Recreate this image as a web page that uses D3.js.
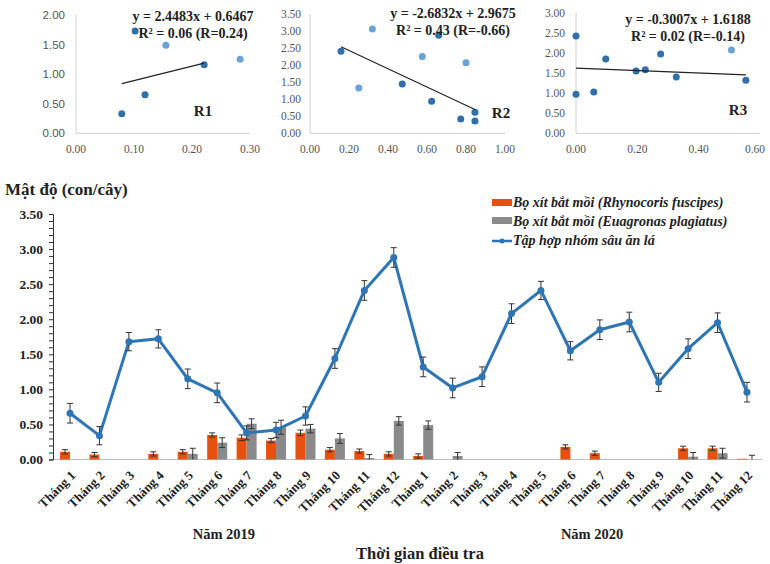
<!DOCTYPE html>
<html><head><meta charset="utf-8">
<script src="https://cdn.jsdelivr.net/npm/d3@7"></script>
<style>body{margin:0;background:#fff}svg{display:block}</style>
</head><body>
<svg id="c" width="770" height="564"></svg>
<script>
// ---------- data ----------
const monthLabels = ["Tháng 1","Tháng 2","Tháng 3","Tháng 4","Tháng 5","Tháng 6","Tháng 7","Tháng 8","Tháng 9","Tháng 10","Tháng 11","Tháng 12",
                     "Tháng 1","Tháng 2","Tháng 3","Tháng 4","Tháng 5","Tháng 6","Tháng 7","Tháng 8","Tháng 9","Tháng 10","Tháng 11","Tháng 12"];
const yearLabels = ["Năm 2019","Năm 2020"];
const rhyno    = [0.11,0.07,0,0.08,0.11,0.35,0.31,0.27,0.38,0.14,0.12,0.08, 0.05,0,0,0,0,0.18,0.09,0,0,0.16,0.16,0.01];
const rhynoErr = [0.03,0.03,0,0.03,0.03,0.03,0.04,0.03,0.04,0.03,0.03,0.03, 0.03,0,0,0,0,0.03,0.03,0,0,0.03,0.03,0];
const eua      = [0,0,0,0,0.08,0.24,0.51,0.46,0.44,0.30,0.02,0.55, 0.49,0.05,0,0,0,0,0,0,0,0.04,0.09,0];
const euaErr   = [0,0,0,0,0.08,0.07,0.07,0.10,0.06,0.07,0.05,0.06, 0.06,0.05,0,0,0,0,0,0,0,0.06,0.07,0.06];
const pest     = [0.66,0.34,1.68,1.72,1.15,0.95,0.38,0.42,0.62,1.44,2.41,2.88, 1.32,1.02,1.18,2.08,2.41,1.55,1.85,1.96,1.10,1.58,1.95,0.96];
const pestErr  = [0.14,0.13,0.13,0.13,0.14,0.14,0.10,0.11,0.13,0.14,0.14,0.14, 0.14,0.14,0.14,0.14,0.13,0.13,0.14,0.14,0.13,0.14,0.14,0.14];
const legendLabels = ["Bọ xít bắt mồi (Rhynocoris fuscipes)","Bọ xít bắt mồi (Euagronas plagiatus)","Tập hợp nhóm sâu ăn lá"];

// scatter panels
const r1Dark  = [[0.102,1.73],[0.221,1.16],[0.119,0.65],[0.079,0.33]];
const r1Light = [[0.155,1.49],[0.283,1.25]];
const r2Dark  = [[0.159,2.41],[0.66,2.88],[0.473,1.45],[0.624,0.94],[0.846,0.62],[0.773,0.42],[0.846,0.36]];
const r2Light = [[0.32,3.06],[0.576,2.25],[0.80,2.07],[0.25,1.33]];
const r3Dark  = [[0,2.42],[0,0.97],[0.058,1.03],[0.097,1.85],[0.196,1.55],[0.226,1.58],[0.276,1.97],[0.327,1.40],[0.554,1.32]];
const r3Light = [[0.507,2.07]];
const r1Fit = [2.4483,0.6467], r2Fit = [-2.6832,2.9675], r3Fit = [-0.3007,1.6188];
const r1Eq = ["y = 2.4483x + 0.6467","R² = 0.06 (R=0.24)"];
const r2Eq = ["y = -2.6832x + 2.9675","R² = 0.43 (R=-0.66)"];
const r3Eq = ["y = -0.3007x + 1.6188","R² = 0.02 (R=-0.14)"];
const r1XTicks=[0,0.1,0.2,0.3], r1YTicks=[0,0.5,1,1.5,2];
const r2XTicks=[0,0.2,0.4,0.6,0.8,1], r2YTicks=[0,0.5,1,1.5,2,2.5,3,3.5];
const r3XTicks=[0,0.2,0.4,0.6], r3YTicks=[0,0.5,1,1.5,2,2.5,3];

// ---------- styles ----------
const ORANGE="#e8500f", GRAY="#8a8a8a", BLUE="#2e75b6", DARKPT="#2f6fac", LIGHTPT="#6aa3d6";
const SERIF="'Liberation Serif','Times New Roman',serif";
const SANS="'Liberation Sans',Arial,sans-serif";
const svg = d3.select("#c");

// ---------- scatter panels ----------
function panel(cfg){
  const g = svg.append("g");
  const x = d3.scaleLinear().domain(cfg.xd).range(cfg.xr);
  const y = d3.scaleLinear().domain(cfg.yd).range(cfg.yr);
  g.append("line").attr("x1",x(cfg.xd[0])).attr("x2",x(cfg.xd[0])).attr("y1",y(cfg.yd[0])).attr("y2",y(cfg.yd[1])).attr("stroke","#d0d0d0");
  g.append("line").attr("x1",x(cfg.xd[0])).attr("x2",x(cfg.xd[1])).attr("y1",y(cfg.yd[0])).attr("y2",y(cfg.yd[0])).attr("stroke","#d0d0d0");
  g.selectAll(".yt").data(cfg.yt).join("text").attr("x",cfg.ylx).attr("y",d=>y(d)).attr("dy","0.35em")
    .attr("text-anchor","end").attr("font-family",cfg.yfont).attr("font-size",11.5).attr("fill","#555").text(d=>d.toFixed(2));
  g.selectAll(".xt").data(cfg.xt).join("text").attr("x",d=>Math.min(x(d),cfg.xmax||999)).attr("y",149).attr("dy","0.35em")
    .attr("text-anchor","middle").attr("font-family",SERIF).attr("font-size",11.5).attr("fill","#555").text(d=>d.toFixed(2));
  g.selectAll(".pl").data(cfg.light).join("circle").attr("cx",d=>x(d[0])).attr("cy",d=>y(d[1])).attr("r",3.5).attr("fill",LIGHTPT);
  g.selectAll(".pd").data(cfg.dark).join("circle").attr("cx",d=>x(d[0])).attr("cy",d=>y(d[1])).attr("r",3.5).attr("fill",DARKPT);
  const xs = d3.extent(cfg.dark,d=>d[0]);
  g.append("line").attr("x1",x(xs[0])).attr("x2",x(xs[1]))
    .attr("y1",y(cfg.fit[0]*xs[0]+cfg.fit[1])).attr("y2",y(cfg.fit[0]*xs[1]+cfg.fit[1]))
    .attr("stroke","#222").attr("stroke-width",1.2);
  g.selectAll(".eq").data(cfg.eq).join("text").attr("x",cfg.eqx).attr("y",(d,i)=>cfg.eqy+i*17).attr("dy","0.35em")
    .attr("text-anchor","middle").attr("font-family",SERIF).attr("font-weight","bold").attr("font-size",14).attr("fill","#222").text(d=>d);
  g.append("text").attr("x",cfg.lab[0]).attr("y",cfg.lab[1]).attr("dy","0.35em").attr("text-anchor","middle")
    .attr("font-family",SERIF).attr("font-weight","bold").attr("font-size",15).attr("fill","#222").text(cfg.name);
}
panel({xd:[0,0.3],xr:[76,250],yd:[0,2],yr:[133.3,15],xt:r1XTicks,yt:r1YTicks,ylx:65,yfont:SANS,
  dark:r1Dark,light:r1Light,fit:r1Fit,eq:r1Eq,eqx:193,eqy:16,lab:[203,111],name:"R1"});
panel({xd:[0,1],xr:[310,505],yd:[0,3.5],yr:[133.3,14],xt:r2XTicks,yt:r2YTicks,ylx:301,yfont:SERIF,
  dark:r2Dark,light:r2Light,fit:r2Fit,eq:r2Eq,eqx:453,eqy:13,lab:[501,113],name:"R2"});
panel({xd:[0,0.6],xr:[576,760],yd:[0,3],yr:[133.3,12.7],xt:r3XTicks,yt:r3YTicks,ylx:565,yfont:SERIF,xmax:755,
  dark:r3Dark,light:r3Light,fit:r3Fit,eq:r3Eq,eqx:688,eqy:19,lab:[738,110],name:"R3"});

// ---------- main chart ----------
const idx = d3.range(monthLabels.length);
const x = d3.scaleBand().domain(idx).range([55.3,761.7]).padding(0);
const cx = i => x(i)+x.bandwidth()/2;
const y = d3.scaleLinear().domain([0,3.5]).range([459.5,214]);
const bw = 10;

// x axis line
svg.append("line").attr("x1",53).attr("x2",762).attr("y1",y(0)).attr("y2",y(0)).attr("stroke","#bfbfbf");
// y axis
const yAx = svg.append("g").attr("transform","translate(53,0)")
  .call(d3.axisLeft(y).tickValues(d3.range(0,36).map(d=>d/10)).tickSize(4).tickPadding(6)
        .tickFormat(d=>(Math.round(d*10)%5===0)?d.toFixed(2):""));
yAx.select(".domain").attr("stroke","#333");
yAx.selectAll(".tick line").attr("stroke","#333");
yAx.selectAll("text").attr("font-family",SERIF).attr("font-weight","bold").attr("font-size",13.5).attr("fill","#222");

// bars
svg.selectAll(".bo").data(idx.filter(i=>rhyno[i]>0)).join("rect")
  .attr("x",i=>cx(i)-bw).attr("width",bw).attr("y",i=>y(rhyno[i])).attr("height",i=>y(0)-y(rhyno[i])).attr("fill",ORANGE);
svg.selectAll(".bg").data(idx.filter(i=>eua[i]>0)).join("rect")
  .attr("x",i=>cx(i)).attr("width",bw).attr("y",i=>y(eua[i])).attr("height",i=>y(0)-y(eua[i])).attr("fill",GRAY);

function errBars(xs, vals, errs){
  const g = svg.append("g").attr("stroke","#333").attr("stroke-width",1);
  idx.filter(i=>errs[i]>0).forEach(i=>{
    const xx = xs(i), lo = Math.max(0, vals[i]-errs[i]), hi = vals[i]+errs[i];
    g.append("line").attr("x1",xx).attr("x2",xx).attr("y1",y(lo)).attr("y2",y(hi));
    g.append("line").attr("x1",xx-3).attr("x2",xx+3).attr("y1",y(hi)).attr("y2",y(hi));
    if (vals[i]-errs[i] > 0) g.append("line").attr("x1",xx-3).attr("x2",xx+3).attr("y1",y(lo)).attr("y2",y(lo));
  });
}
errBars(i=>cx(i)-bw/2, rhyno, rhynoErr);
errBars(i=>cx(i)+bw/2, eua, euaErr);

// line
svg.append("path").datum(idx).attr("fill","none").attr("stroke",BLUE).attr("stroke-width",3)
  .attr("stroke-linejoin","round").attr("d",d3.line().x(i=>cx(i)).y(i=>y(pest[i])));
errBars(i=>cx(i), pest, pestErr);
svg.selectAll(".pt").data(idx).join("circle").attr("cx",i=>cx(i)).attr("cy",i=>y(pest[i])).attr("r",3.5).attr("fill",BLUE);

// x labels
svg.selectAll(".xl").data(idx).join("text")
  .attr("transform",i=>`translate(${cx(i)+3},${473}) rotate(-45)`)
  .attr("text-anchor","end").attr("dy","0.35em")
  .attr("font-family",SERIF).attr("font-weight","bold").attr("font-size",13).attr("fill","#222")
  .text(i=>monthLabels[i]);
// year labels
svg.selectAll(".yr").data(yearLabels).join("text")
  .attr("x",(d,k)=>(cx(k*12+5)+cx(k*12+6))/2 - (k===0?8:-7)).attr("y",534).attr("dy","0.35em").attr("text-anchor","middle")
  .attr("font-family",SERIF).attr("font-weight","bold").attr("font-size",14.5).attr("fill","#222").text(d=>d);
// axis titles
svg.append("text").attr("x",420).attr("y",553).attr("dy","0.35em").attr("text-anchor","middle")
  .attr("font-family",SERIF).attr("font-weight","bold").attr("font-size",16.5).attr("fill","#222").text("Thời gian điều tra");
svg.append("text").attr("x",5).attr("y",189).attr("dy","0.35em")
  .attr("font-family",SERIF).attr("font-weight","bold").attr("font-size",17).attr("fill","#222").text("Mật độ (con/cây)");

// legend
const lg = svg.append("g");
lg.append("rect").attr("x",492).attr("y",199).attr("width",20).attr("height",7).attr("fill",ORANGE);
lg.append("rect").attr("x",492).attr("y",217).attr("width",20).attr("height",7).attr("fill",GRAY);
lg.append("line").attr("x1",492).attr("x2",512).attr("y1",241).attr("y2",241).attr("stroke",BLUE).attr("stroke-width",2.5);
lg.append("circle").attr("cx",502).attr("cy",241).attr("r",2.5).attr("fill",BLUE);
lg.selectAll("text").data(legendLabels).join("text").attr("x",513).attr("y",(d,i)=>202.5+i*19).attr("dy","0.35em")
  .attr("font-family",SERIF).attr("font-weight","bold").attr("font-style","italic").attr("font-size",14).attr("fill","#222")
  .text(d=>d);
</script>
</body></html>
